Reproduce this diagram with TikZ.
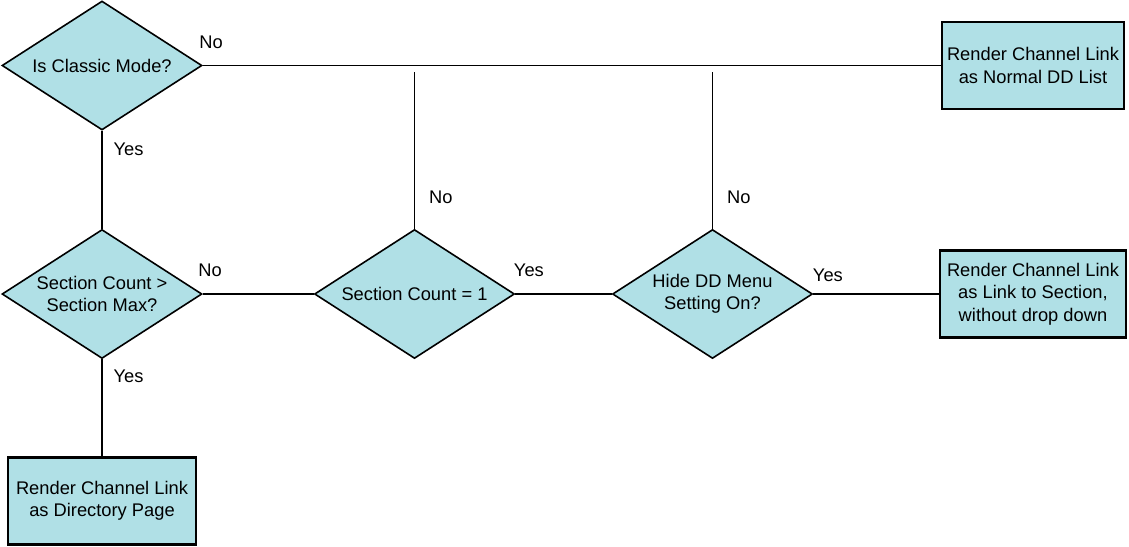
\documentclass[tikz,border=0pt]{standalone}
\usepackage{fontspec}
\setmainfont{Liberation Sans}
\usetikzlibrary{matrix,shapes.geometric,positioning}
\definecolor{flowblue}{RGB}{176,224,230}
\tikzset{
	txt/.style={font=\fontsize{18.3}{22.5}\selectfont},
	decide/.style={txt, diamond, draw, line width=1.6pt, fill=flowblue, aspect=1.55,
		minimum width=200pt, minimum height=129pt, inner sep=0pt, align=center},
	render/.style={txt, rectangle, draw, line width=2.2pt, fill=flowblue,
		minimum height=87pt, inner sep=0pt, align=center},
	lbl/.style={txt, inner sep=0pt},
	conn/.style={line width=1.3pt}
}

\begin{document}
\begin{tikzpicture}[x=1pt,y=-1pt]
			\useasboundingbox (0,0) rectangle (1129,546);
			\matrix (f) [matrix anchor=cm.center, row sep={228.5pt,between origins},
				column sep={312.5pt,between origins}] at (102,65.5)
			{
				\node[decide] (cm) {Is Classic Mode?};     &     &[-14.5pt]     &[8pt] \node[render, minimum width=182pt] (nl) {Render Channel Link\\as Normal DD List};   \\
				\node[decide] (sm) {Section Count >\\Section Max?};     & \node[decide] (sc) {Section Count = 1};     &[-14.5pt] \node[decide] (hd) {Hide DD Menu\\Setting On?};     &[8pt] \node[render, minimum width=186pt] (ls) {Render Channel Link\\as Link to Section,\\without drop down};   \\[-21.5pt]
				\node[render, minimum width=188pt] (dp) {Render Channel Link\\as Directory Page};   \\};
			\coordinate (sctop) at ([yshift=-6.5pt]sc.north |- cm.east);
			\coordinate (hdtop) at ([yshift=-6.5pt]hd.north |- cm.east);
			\path[conn]
			(cm) edge node[lbl, pos=0, above right=16pt and -4pt]{No} (nl) edge node[lbl, pos=0, below right=11pt and 11pt]{Yes} (sm)
			(sm) edge node[lbl, pos=0, above right=17pt and -5pt]{No} (sc) edge node[lbl, pos=0, below right=10pt and 11pt]{Yes} (dp)
			(sc) edge node[lbl, pos=0.2, right=14pt]{No} (sctop) edge node[lbl, pos=0, above right=17pt and -2pt]{Yes} (hd)
			(hd) edge node[lbl, pos=0.2, right=14pt]{No} (hdtop) edge node[lbl, pos=0, above right=12pt and -1pt]{Yes} (ls);
		\end{tikzpicture}
\end{document}
